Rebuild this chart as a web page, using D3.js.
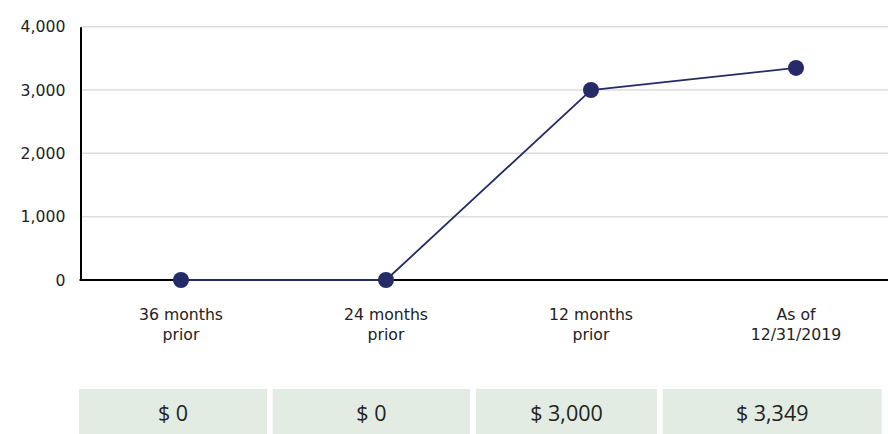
<!DOCTYPE html>
<html>
<head>
<meta charset="utf-8">
<script src="https://cdn.jsdelivr.net/npm/d3@7"></script>
<style>
  html, body { margin: 0; padding: 0; background: #fff; }
  svg { display: block; }
</style>
</head>
<body>
<svg id="chart" width="888" height="434"></svg>
<script>
// ---- data ----
const categories = ["36 months|prior", "24 months|prior", "12 months|prior", "As of|12/31/2019"];
const values = [0, 0, 3000, 3349];
const yTicks = [0, 1000, 2000, 3000, 4000];
const tableLabels = ["$ 0", "$ 0", "$ 3,000", "$ 3,349"];

// ---- layout ----
const W = 888, H = 434;
const plotLeft = 80.5, plotRight = 888, bandLeft = 78.5, bandRight = 898.5;
const plotTop = 26.7, plotBottom = 280;
const cellEdges = [[79, 267], [272.7, 470], [476, 657], [662.7, 881.7]];
const cellTop = 389, cellBottom = 436;

const svg = d3.select("#chart");

const x = d3.scaleBand().domain(d3.range(categories.length)).range([bandLeft, bandRight]);
const y = d3.scaleLinear().domain([0, 4000]).range([plotBottom, plotTop]);

// gridlines
svg.append("g").selectAll("line").data(yTicks.filter(d => d !== 0)).join("line")
  .attr("x1", plotLeft).attr("x2", plotRight)
  .attr("y1", d => y(d)).attr("y2", d => y(d))
  .attr("stroke", "#dcdcdc").attr("stroke-width", 1.5);

// y axis
const yAxis = d3.axisLeft(y).tickValues(yTicks).tickSize(0).tickPadding(15)
  .tickFormat(d3.format(","));
const gy = svg.append("g").attr("transform", `translate(${plotLeft},0)`).call(yAxis);
gy.select(".domain").attr("stroke", "#000").attr("stroke-width", 2);
gy.selectAll("text").attr("font-family", "'DejaVu Sans', Verdana, sans-serif")
  .attr("font-size", "15.7px").attr("fill", "#222");

// x axis baseline
svg.append("line").attr("x1", plotLeft - 1).attr("x2", plotRight)
  .attr("y1", y(0)).attr("y2", y(0)).attr("stroke", "#000").attr("stroke-width", 2);

// x labels
const xl = svg.append("g").selectAll("text").data(categories).join("text")
  .attr("text-anchor", "middle")
  .attr("font-family", "'DejaVu Sans', Verdana, sans-serif")
  .attr("font-size", "15.7px").attr("fill", "#222")
  .attr("transform", (d, i) => `translate(${x(i) + x.bandwidth() / 2},${plotBottom + 39.5})`);
xl.each(function (d) {
  const parts = d.split("|");
  d3.select(this).selectAll("tspan").data(parts).join("tspan")
    .attr("x", 0).attr("dy", (p, j) => j === 0 ? 0 : 20).text(p => p);
});

// line
const line = d3.line().x((d, i) => x(i) + x.bandwidth() / 2).y(d => y(d));
svg.append("path").datum(values).attr("d", line)
  .attr("fill", "none").attr("stroke", "#252b66").attr("stroke-width", 1.8);

// points
svg.append("g").selectAll("circle").data(values).join("circle")
  .attr("cx", (d, i) => x(i) + x.bandwidth() / 2).attr("cy", d => y(d))
  .attr("r", 8).attr("fill", "#252b66");

// table
const cells = svg.append("g").selectAll("g").data(tableLabels).join("g");
cells.append("rect")
  .attr("x", (d, i) => cellEdges[i][0]).attr("y", cellTop)
  .attr("width", (d, i) => cellEdges[i][1] - cellEdges[i][0])
  .attr("height", cellBottom - cellTop)
  .attr("fill", "#e2ece3");
cells.append("text")
  .attr("x", (d, i) => (cellEdges[i][0] + cellEdges[i][1]) / 2)
  .attr("y", 413.5)
  .attr("dy", "0.35em")
  .attr("text-anchor", "middle")
  .attr("font-family", "'Open Sans', sans-serif")
  .attr("font-size", "21.5px").attr("fill", "#222")
  .text(d => d);
</script>
</body>
</html>
